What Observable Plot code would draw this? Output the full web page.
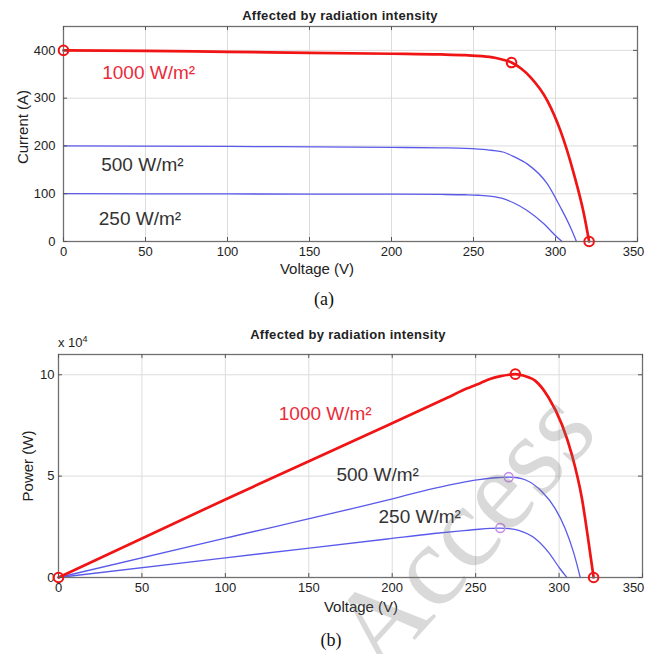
<!DOCTYPE html>
<html><head><meta charset="utf-8">
<script src="https://cdn.jsdelivr.net/npm/d3@7"></script>
<script src="https://cdn.jsdelivr.net/npm/@observablehq/plot@0.6"></script>
<style>
body{margin:0;background:#fff;}
#page{position:relative;width:647px;height:654px;overflow:hidden;font-family:"Liberation Sans",Arial,sans-serif;color:#222;}
.abs{position:absolute;white-space:nowrap;}
#page svg{position:absolute;left:0;}
</style></head><body><div id="page"></div>
<script>
// ---------- data ----------
const xTicks = [0, 50, 100, 150, 200, 250, 300, 350];
const currentTicks = [0, 100, 200, 300, 400];
const powerTicks = [0, 5, 10];           // x 10^4 W
const seriesNames = ["1000 W/m²", "500 W/m²", "250 W/m²"];

// (a) I-V curves
const voltageA1000 = [0, 50, 100, 150, 200, 230, 245, 255, 263, 268, 273.2, 279, 284.8, 295, 303, 311.2, 317.3, 320.5];
const currentA1000 = [400, 399, 397, 395, 393, 391.5, 390, 388, 384.5, 380.5, 374.5, 362, 343.7, 295, 232, 141.6, 58, 0];
const voltageA500  = [0, 100, 200, 230, 245, 253, 261, 268.5, 275, 282.7, 295, 303, 309.1, 312.8];
const currentA500  = [200, 199, 197, 196, 195, 193.5, 191, 186.8, 177, 162.5, 120.7, 71.8, 30, 0];
const voltageA250  = [0, 100, 200, 230, 245, 253, 261, 268.5, 275, 282.7, 292.9, 301, 304];
const currentA250  = [100, 99.5, 99, 98.5, 97.8, 96.8, 94.5, 89.3, 80, 64.9, 37, 9, 0];
const markerVoltageA = [0, 273.2, 320.5];
const markerCurrentA = [400, 374.5, 0];

// (b) P-V curves (power in 10^4 W)
const voltageB1000 = [0, 100, 197, 233, 245, 253, 259, 265, 270, 273.8, 279, 285.8, 293.7, 301.7, 307.7, 313.7, 317.7, 320.7];
const powerB1000   = [0, 3.85, 7.5, 8.87, 9.33, 9.6, 9.8, 9.93, 10.0, 10.03, 9.95, 9.7, 8.88, 7.55, 6.05, 3.9, 1.74, 0];
const voltageB500  = [0, 100, 197, 225, 240, 252, 262, 269.8, 275, 280, 289.8, 297.7, 303.7, 308.7, 312.7];
const powerB500    = [0, 1.94, 3.82, 4.4, 4.66, 4.83, 4.92, 4.95, 4.92, 4.81, 4.23, 3.4, 2.41, 1.24, 0];
const voltageB250  = [0, 100, 197, 225, 240, 252, 259, 264.8, 270, 275.8, 285.8, 293.7, 300.7, 304.7];
const powerB250    = [0, 0.97, 1.9, 2.17, 2.29, 2.38, 2.42, 2.44, 2.41, 2.32, 1.91, 1.24, 0.42, 0];
const markerVoltageBRed = [0, 273.8, 320.7];
const markerPowerBRed   = [0, 10.03, 0];
const markerVoltageBMpp = [269.8, 264.8];
const markerPowerBMpp   = [4.95, 2.44];

// label anchor positions (data coordinates)
const labelVoltageA = [23.6, 23, 21.5];
const labelCurrentA = [352, 160, 48];
const labelVoltageB = [132, 166.6, 191.8];
const labelPowerB   = [8.05, 5.06, 2.97];

// ---------- styling ----------
const RED = "#f01414";
const BLUE = "#5a5aea";
const LABEL_COLORS = ["#ea2b3a", "#333", "#333"];
const page = document.getElementById("page");

const zip = (xs, ys) => xs.map((x, i) => ({x, y: ys[i]}));

function chart(cfg) {
  const fh = cfg.height - cfg.marginTop - cfg.marginBottom;
  const fw = 647 - cfg.marginLeft - cfg.marginRight;
  const labels = seriesNames.map((t, i) => ({t, x: cfg.labelX[i], y: cfg.labelY[i], c: LABEL_COLORS[i]}));
  const axisText = {tickSize: 0, tickPadding: cfg.xPad, fontSize: 13, fill: "#222", label: null};
  const marks = [
    Plot.gridX(xTicks, {stroke: "#dcdcdc", strokeOpacity: 1}),
    Plot.gridY(cfg.yTicks, {stroke: "#dcdcdc", strokeOpacity: 1}),
    Plot.line(cfg.s250, {x: "x", y: "y", stroke: BLUE, strokeWidth: 1.3, curve: "monotone-x"}),
    Plot.line(cfg.s500, {x: "x", y: "y", stroke: BLUE, strokeWidth: 1.3, curve: "monotone-x"}),
    Plot.line(cfg.s1000, {x: "x", y: "y", stroke: RED, strokeWidth: 2.7, curve: "monotone-x"}),
    Plot.frame({stroke: "#707070", strokeWidth: 1.3}),
    Plot.tickX(xTicks, {x: d => d, stroke: "#555", insetTop: fh - 4}),
    Plot.tickX(xTicks, {x: d => d, stroke: "#555", insetBottom: fh - 4}),
    Plot.tickY(cfg.yTicks, {y: d => d, stroke: "#555", insetRight: fw - 4}),
    Plot.tickY(cfg.yTicks, {y: d => d, stroke: "#555", insetLeft: fw - 4}),
    Plot.axisX(xTicks.slice(0, -1), axisText),
    Plot.axisX(xTicks.slice(-1), {...axisText, dx: cfg.lastDx}),
    Plot.axisY(cfg.yTicks, {tickSize: 0, tickPadding: cfg.yPad, fontSize: 13, fill: "#222", label: null}),
    ...(cfg.mpp ? [Plot.dot(cfg.mpp, {x: "x", y: "y", r: 4.5, stroke: "#c78ee6", strokeWidth: 1.6, fill: "none"})] : []),
    Plot.dot(cfg.markers, {x: "x", y: "y", r: 4.8, stroke: RED, strokeWidth: 2, fill: "none"}),
    Plot.text(labels, {x: "x", y: "y", text: "t", fill: "c", textAnchor: "start", lineAnchor: "middle", fontSize: 19})
  ];
  const svg = Plot.plot({
    width: 647, height: cfg.height,
    marginLeft: cfg.marginLeft, marginRight: cfg.marginRight,
    marginTop: cfg.marginTop, marginBottom: cfg.marginBottom,
    x: {domain: [0, 350], label: null},
    y: {domain: cfg.yDomain, label: null},
    style: {fontFamily: '"Liberation Sans", Arial, sans-serif', fontSize: "13px", background: "transparent", color: "#222"},
    marks
  });
  svg.style.top = cfg.top + "px";
  page.appendChild(svg);
}

chart({
  top: 0, height: 290, marginTop: 26, marginBottom: 49, marginLeft: 63, marginRight: 10,
  xPad: 5, yPad: 8, lastDx: -4, yDomain: [0, 450], yTicks: currentTicks,
  s1000: zip(voltageA1000, currentA1000), s500: zip(voltageA500, currentA500), s250: zip(voltageA250, currentA250),
  markers: zip(markerVoltageA, markerCurrentA),
  labelX: labelVoltageA, labelY: labelCurrentA
});
chart({
  top: 320, height: 300, marginTop: 34, marginBottom: 43, marginLeft: 58, marginRight: 5,
  xPad: 5, yPad: 4, lastDx: -9, yDomain: [0, 11], yTicks: powerTicks,
  s1000: zip(voltageB1000, powerB1000), s500: zip(voltageB500, powerB500), s250: zip(voltageB250, powerB250),
  markers: zip(markerVoltageBRed, markerPowerBRed), mpp: zip(markerVoltageBMpp, markerPowerBMpp),
  labelX: labelVoltageB, labelY: labelPowerB
});

function addText(html, css) {
  const d = document.createElement("div");
  d.className = "abs";
  d.innerHTML = html;
  d.style.cssText += css;
  page.appendChild(d);
  return d;
}
const center = "transform:translate(-50%,-50%);";
addText("Affected by radiation intensity", `left:340px;top:15px;${center}font-weight:bold;font-size:13px;letter-spacing:0.3px;`);
addText("Affected by radiation intensity", `left:348px;top:334px;${center}font-weight:bold;font-size:13px;letter-spacing:0.3px;`);
addText("Current (A)", `left:22px;top:127px;transform:translate(-50%,-50%) rotate(-90deg);font-size:15px;`);
addText("Power (W)", `left:27px;top:466px;transform:translate(-50%,-50%) rotate(-90deg);font-size:15px;`);
addText("Voltage (V)", `left:317px;top:268px;${center}font-size:15px;`);
addText("Voltage (V)", `left:361px;top:606px;${center}font-size:15px;`);
addText("x 10<sup style='font-size:9px'>4</sup>", `left:58px;top:342px;transform:translateY(-50%);font-size:13px;`);
addText("(a)", `left:324px;top:299px;${center}font-family:'Liberation Serif',serif;font-size:18px;color:#111;`);
addText("(b)", `left:331px;top:640px;${center}font-family:'Liberation Serif',serif;font-size:18px;color:#111;`);
addText("Access", `left:462px;top:530px;transform:translate(-50%,-50%) rotate(-48deg);font-family:'Liberation Serif',serif;font-size:116px;color:rgba(120,120,120,0.28);`);
</script></body></html>
